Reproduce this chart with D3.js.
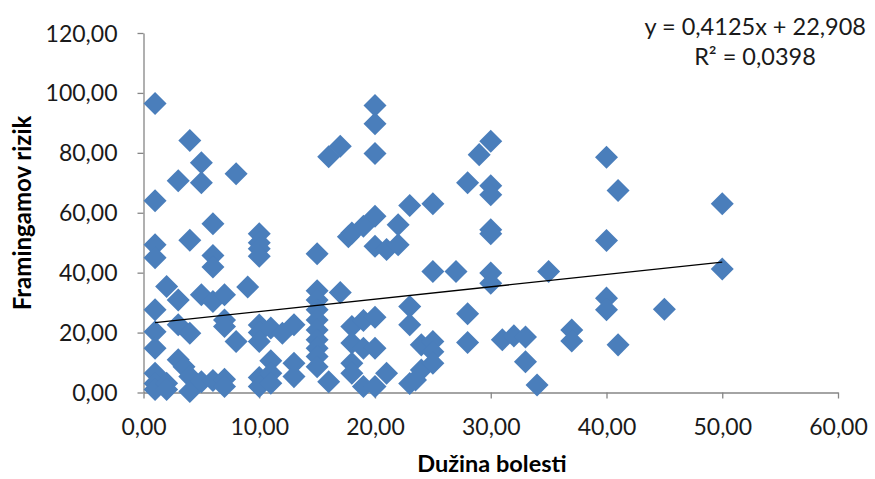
<!DOCTYPE html>
<html><head><meta charset="utf-8">
<script src="https://cdn.jsdelivr.net/npm/d3@7"></script>
<style>body{margin:0;background:#fff;} svg{display:block;}</style>
</head><body>
<script>
const xValues = [
 1,1,1,1,1,1,1,1,1,1,
 2,2,2,
 3,3,3,3,3.5,
 4,4,4,4,4,
 5,5,5,5,
 6,6,6,6,6,
 7,7,7,7,7,
 8,8,9,
 10,10,10,10,10,10,10,10,10,
 11,11,11,11,12,
 13,13,13,
 15,15,15,15,15,15,15,15,15,15,
 16,16,17,17,17.7,
 18,18,18,18,18,19,19,19,19,
 20,20,20,20,20,20,20,20,
 21,21,22,22,
 23,23,23,23,24,24,23.5,
 25,25,25,25,25,27,
 28,28,28,29,
 30,30,30,30,30,30,30,
 31,32,33,33,34,35,37,37,
 40,40,40,40,41,41,45,50,50
];
const yValues = [
 96.5,64,49.3,45,27.6,20.3,14.8,6.4,3,1,
 35.4,3.1,1,
 70.7,30.9,22.6,10.9,8.6,
 84.1,50.8,19.8,5.3,0.3,
 76.7,70,32.6,3.6,
 56.3,45.7,41.9,30.4,4,
 32.6,24.2,22,4.4,2,
 73,17,35.2,
 53,50,48,45.5,22.5,20,17,5,2,
 21.5,10.6,6.4,3.1,19.8,
 22.6,9.8,5.3,
 46.3,34,30.9,27.6,24.2,20.9,17.6,14.8,12,8.6,
 78.7,3.6,82.2,33.4,52,
 53.2,22,16.5,9.8,6.4,55.5,14.8,2,24,
 95.8,89.7,79.8,58.8,48.8,25.1,14.8,2,
 47.7,6.4,56,49.3,
 62.4,28.7,22.6,3,15.9,7.5,4.2,
 63,40.4,17,13.6,9.8,40.4,
 70,26.3,16.7,79.4,
 83.9,69,66,54.3,53,39.9,36.5,
 17.6,18.9,18.5,10.3,2.5,40.4,20.9,17.2,
 78.5,50.7,31.5,27.6,67.4,15.9,27.8,63,41.2
];
const xTicks = [0,10,20,30,40,50,60];
const yTicks = [0,20,40,60,80,100,120];
const xTitle = "Dužina bolesti";
const yTitle = "Framingamov rizik";
const slope = 0.4125, intercept = 22.908;
const eqLines = ["y = 0,4125x + 22,908", "R² = 0,0398"];

const W = 875, H = 479;
const svg = d3.select("body").append("svg").attr("width", W).attr("height", H);
const x = d3.scaleLinear().domain([0,60]).range([143.5, 838]);
const y = d3.scaleLinear().domain([0,120]).range([392.5, 33]);
const fmt = v => d3.format(".2f")(v).replace(".", ",");
const font = "Lato, 'Open Sans', sans-serif";
const axisColor = "#868686";

// axes
const gx = svg.append("g").attr("transform", `translate(0,${y(0)})`)
  .call(d3.axisBottom(x).tickValues(xTicks).tickFormat(fmt).tickSize(6).tickSizeOuter(0));
const gy = svg.append("g").attr("transform", `translate(${x(0)},0)`)
  .call(d3.axisLeft(y).tickValues(yTicks).tickFormat(fmt).tickSize(6).tickSizeOuter(0));
[gx, gy].forEach(g => {
  g.select(".domain").attr("stroke", axisColor).attr("stroke-width", 1.3);
  g.selectAll(".tick line").attr("stroke", axisColor).attr("stroke-width", 1.3);
  g.selectAll(".tick text").attr("fill", "#1a1a1a").attr("font-family", font).attr("font-size", 23);
});
gx.selectAll(".tick text").attr("dy", 0).attr("y", 42);
gy.selectAll(".tick text").attr("x", -26).attr("dy", "0.35em");

// points
const data = xValues.map((v, i) => ({x: v, y: yValues[i]}));
const sym = d3.symbol().type(d3.symbolSquare).size(265);
svg.append("g").selectAll("path").data(data).join("path")
  .attr("d", sym)
  .attr("transform", d => `translate(${x(d.x)},${y(d.y)}) rotate(45)`)
  .attr("fill", "#4A7EBB");

// trendline
const xmin = d3.min(xValues), xmax = d3.max(xValues);
svg.append("line")
  .attr("x1", x(xmin)).attr("y1", y(slope*xmin+intercept))
  .attr("x2", x(xmax)).attr("y2", y(slope*xmax+intercept))
  .attr("stroke", "#000").attr("stroke-width", 1.3);

// equation
svg.append("text").attr("x", 866).attr("y", 35).attr("text-anchor", "end")
  .attr("font-family", font).attr("font-size", 23.5).attr("fill", "#1a1a1a").text(eqLines[0]);
svg.append("text").attr("x", 755).attr("y", 65).attr("text-anchor", "middle")
  .attr("font-family", font).attr("font-size", 23.5).attr("fill", "#1a1a1a").text(eqLines[1]);

// titles
svg.append("text").attr("x", 492).attr("y", 472).attr("text-anchor", "middle")
  .attr("font-family", font).attr("font-weight", "bold").attr("font-size", 23.5).attr("fill", "#000").text(xTitle);
svg.append("text").attr("transform", "translate(31,213) rotate(-90)").attr("text-anchor", "middle")
  .attr("font-family", font).attr("font-weight", "bold").attr("font-size", 24).attr("fill", "#000").text(yTitle);
</script>
</body></html>
